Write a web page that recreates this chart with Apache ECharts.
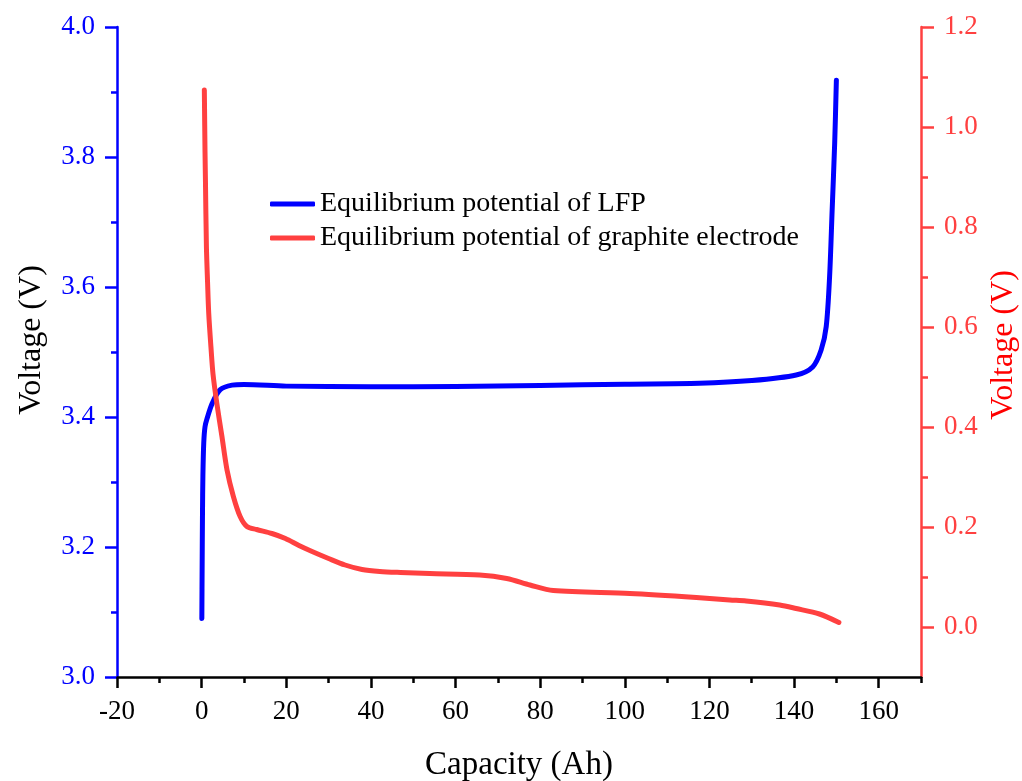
<!DOCTYPE html>
<html>
<head>
<meta charset="utf-8">
<script src="https://cdn.jsdelivr.net/npm/echarts@6/dist/echarts.min.js"></script>
<style>
html,body{margin:0;padding:0;background:#fff;}
#chart{width:1022px;height:781px;}
</style>
</head>
<body>
<div id="chart"></div>
<script>
// ---- Data ----
const seriesNames = ['Equilibrium potential of LFP', 'Equilibrium potential of graphite electrode'];

const lfpCap = [0.05, 0.12, 0.2, 0.3, 0.5, 0.8, 1.3, 2.5, 4.4, 7.2, 10, 20, 40, 60, 80, 100, 117.6, 130, 140.5, 144.4, 146.4, 147.6, 148.4, 149.0, 149.6, 150.0];
const lfpV   = [3.09, 3.17, 3.25, 3.31, 3.36, 3.385, 3.398, 3.421, 3.442, 3.449, 3.45, 3.4475, 3.4465, 3.447, 3.4485, 3.4505, 3.4518, 3.456, 3.4646, 3.477, 3.503, 3.539, 3.616, 3.718, 3.821, 3.918];

const grCap = [0.64, 0.8, 0.9, 1.13, 1.4, 1.68, 2.2, 2.7, 3.6, 4.8, 6.0, 7.5, 9.1, 10.7, 13, 16.6, 19.8, 23, 26.1, 30, 33.9, 37.9, 42.1, 47, 53.9, 65.7, 72.1, 77.6, 83.1, 101.2, 116.9, 124.8, 128.7, 136.6, 140.5, 146, 150.6];
const grV   = [1.074, 0.95, 0.894, 0.761, 0.69, 0.627, 0.56, 0.505, 0.447, 0.381, 0.314, 0.261, 0.221, 0.201, 0.195, 0.187, 0.177, 0.163, 0.151, 0.137, 0.124, 0.115, 0.111, 0.109, 0.107, 0.104, 0.097, 0.084, 0.073, 0.067, 0.059, 0.054, 0.052, 0.044, 0.037, 0.026, 0.009];

const xTicks = [-20, 0, 20, 40, 60, 80, 100, 120, 140, 160];
const xMinorTicks = [-10, 10, 30, 50, 70, 90, 110, 130, 150, 170];
const rTicks = [0, 0.2, 0.4, 0.6, 0.8, 1.0, 1.2];
const rMinorTicks = [0.1, 0.3, 0.5, 0.7, 0.9, 1.1];

const FONT = "'Liberation Serif', 'Times New Roman', serif";
const BLUE = '#0000FF';
const RED = '#FF4040';

const lfpData = lfpCap.map((c, i) => [c, lfpV[i]]);
const grData = grCap.map((c, i) => [c, grV[i]]);

const chart = echarts.init(document.getElementById('chart'), null, {renderer: 'canvas'});
chart.setOption({
  animation: false,
  backgroundColor: '#fff',
  grid: {left: 117, right: 101, top: 27, bottom: 104, containLabel: false},
  legend: {
    orient: 'vertical',
    left: 265, top: 185,
    itemWidth: 45, itemHeight: 5, itemGap: 6,
    icon: 'roundRect',
    data: seriesNames,
    textStyle: {fontFamily: FONT, fontSize: 28, color: '#000', lineHeight: 28}
  },
  xAxis: [{
    type: 'value', min: -20, max: 170, position: 'bottom',
    axisLine: {show: true, onZero: false, lineStyle: {color: '#000', width: 2.5}},
    axisTick: {show: true, length: 11, customValues: xTicks, lineStyle: {color: '#000', width: 2.5}},
    axisLabel: {customValues: xTicks, margin: 21, fontFamily: FONT, fontSize: 27, color: '#000'},
    splitLine: {show: false}
  }, {
    type: 'value', min: -20, max: 170, position: 'bottom',
    axisLine: {show: false, onZero: false},
    axisTick: {show: true, length: 6, customValues: xMinorTicks, lineStyle: {color: '#000', width: 2.5}},
    axisLabel: {show: false},
    splitLine: {show: false}
  }],
  yAxis: [{
    type: 'value', min: 3.0, max: 4.0, interval: 0.2, position: 'left',
    axisLine: {show: true, onZero: false, lineStyle: {color: BLUE, width: 2.5}},
    axisTick: {show: true, length: 12, lineStyle: {color: BLUE, width: 2.5}},
    minorTick: {show: true, splitNumber: 2, length: 6, lineStyle: {color: BLUE, width: 2.5}},
    axisLabel: {margin: 22, fontFamily: FONT, fontSize: 27, color: BLUE, formatter: v => v.toFixed(1)},
    splitLine: {show: false}
  }, {
    type: 'value', min: -0.1, max: 1.2, position: 'right',
    axisLine: {show: true, onZero: false, lineStyle: {color: RED, width: 2.5}},
    axisTick: {show: true, length: 13, customValues: rTicks, lineStyle: {color: RED, width: 2.5}},
    axisLabel: {customValues: rTicks, margin: 23, fontFamily: FONT, fontSize: 27, color: RED, formatter: v => v.toFixed(1)},
    splitLine: {show: false}
  }, {
    type: 'value', min: -0.1, max: 1.2, position: 'right',
    axisLine: {show: false, onZero: false},
    axisTick: {show: true, length: 7, customValues: rMinorTicks, lineStyle: {color: RED, width: 2.5}},
    axisLabel: {show: false},
    splitLine: {show: false}
  }],
  graphic: [
    {type: 'text', x: 32, y: 340, rotation: Math.PI / 2,
      style: {text: 'Voltage (V)', fontFamily: FONT, fontSize: 32, fill: '#000', align: 'center', verticalAlign: 'middle'}},
    {type: 'text', x: 1004, y: 345, rotation: Math.PI / 2,
      style: {text: 'Voltage (V)', fontFamily: FONT, fontSize: 32, fill: '#FF0000', align: 'center', verticalAlign: 'middle'}},
    {type: 'text', x: 519, y: 765,
      style: {text: 'Capacity (Ah)', fontFamily: FONT, fontSize: 33, fill: '#000', align: 'center', verticalAlign: 'middle'}}
  ],
  series: [{
    name: seriesNames[0], type: 'line', xAxisIndex: 0, yAxisIndex: 0,
    data: lfpData, showSymbol: false, symbol: 'none', smooth: 0.3,
    lineStyle: {color: BLUE, width: 5, cap: 'round', join: 'round'},
    itemStyle: {color: BLUE}
  }, {
    name: seriesNames[1], type: 'line', xAxisIndex: 0, yAxisIndex: 1,
    data: grData, showSymbol: false, symbol: 'none', smooth: 0.3,
    lineStyle: {color: RED, width: 5, cap: 'round', join: 'round'},
    itemStyle: {color: RED}
  }]
});
</script>
</body>
</html>
